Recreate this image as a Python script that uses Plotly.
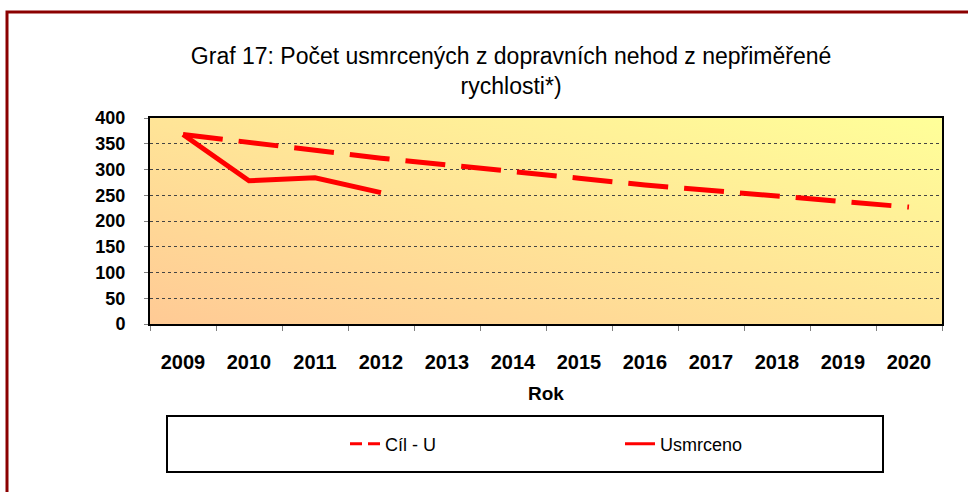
import base64
import plotly.graph_objects as go

years = ["2009", "2010", "2011", "2012", "2013", "2014", "2015", "2016", "2017", "2018", "2019", "2020"]
cil_u = [368, 352, 337, 322, 309, 295, 283, 270, 259, 248, 237, 227]
usmrceno_years = ["2009", "2010", "2011", "2012"]
usmrceno = [368, 278, 284, 255]
y_ticks = [0, 50, 100, 150, 200, 250, 300, 350, 400]

W, H = 968, 492
L, R, T, B = 150, 26, 118, 168
pw, ph = W - L - R, H - T - B


def px_x(x):
    return (x - L) / pw


def px_y(y):
    return (H - B - y) / ph


svg = (
    '<svg xmlns="http://www.w3.org/2000/svg" width="800" height="200" preserveAspectRatio="none">'
    '<defs><linearGradient id="g" x1="0" y1="1" x2="1" y2="0">'
    '<stop offset="0" stop-color="#FFCA95"/>'
    '<stop offset="1" stop-color="#FFFF99"/>'
    '</linearGradient></defs>'
    '<rect x="0" y="0" width="800" height="200" fill="url(#g)"/></svg>'
)
src = "data:image/svg+xml;base64," + base64.b64encode(svg.encode()).decode()

fig = go.Figure()
# data traces
fig.add_trace(go.Scatter(
    x=years, y=cil_u, name="Cíl - U", mode="lines", showlegend=False,
    line=dict(color="#FF0000", width=5, dash="40px,16px"),
))
fig.add_trace(go.Scatter(
    x=usmrceno_years, y=usmrceno, name="Usmrceno", mode="lines", showlegend=False,
    line=dict(color="#FF0000", width=5),
))
# legend entries (thinner samples as in the reference legend)
fig.add_trace(go.Scatter(
    x=[None], y=[None], name="Cíl - U", mode="lines",
    line=dict(color="#FF0000", width=3, dash="12px,6px"),
))
fig.add_trace(go.Scatter(
    x=[None], y=[None], name="Usmrceno", mode="lines",
    line=dict(color="#FF0000", width=3),
))

font_family = "Liberation Sans, Arial, sans-serif"

fig.update_layout(
    width=W, height=H,
    margin=dict(l=L, r=R, t=T, b=B, autoexpand=False),
    paper_bgcolor="white",
    plot_bgcolor="rgba(0,0,0,0)",
    font=dict(family=font_family, color="black"),
    title=dict(
        text="Graf 17: Počet usmrcených z dopravních nehod z nepřiměřené<br>rychlosti*)",
        x=0.528, xref="container", xanchor="center",
        y=1 - 64 / H, yanchor="middle",
        font=dict(size=23, family=font_family, color="black"),
    ),
    xaxis=dict(
        type="category",
        categoryorder="array", categoryarray=years,
        range=[-0.5, 11.5],
        tickson="boundaries", ticks="outside", ticklen=5, tickcolor="#808080",
        tickfont=dict(size=20, family=font_family, color="black", weight="bold"),
        ticklabelstandoff=19,
        showline=True, linecolor="black", linewidth=2, mirror=True,
        showgrid=False, zeroline=False,
        title=dict(text="<b>Rok</b>", font=dict(size=19, family=font_family), standoff=15),
    ),
    yaxis=dict(
        range=[0, 400], tickvals=y_ticks,
        ticks="outside", ticklen=4, tickcolor="#808080",
        tickfont=dict(size=18, family=font_family, color="black", weight="bold"),
        ticklabelstandoff=15,
        showline=True, linecolor="black", linewidth=2, mirror=True,
        showgrid=True, gridcolor="#444444", griddash="dot", gridwidth=1,
        zeroline=False,
    ),
    showlegend=True,
    legend=dict(
        orientation="h",
        x=px_x(345), xanchor="left",
        y=px_y(444), yanchor="middle",
        entrywidth=230, entrywidthmode="pixels",
        font=dict(size=18, family=font_family, color="black"),
        bgcolor="rgba(0,0,0,0)", borderwidth=0,
    ),
    images=[dict(
        source=src, xref="paper", yref="paper",
        x=0, y=1, sizex=1, sizey=1, sizing="stretch",
        xanchor="left", yanchor="top", layer="below",
    )],
    shapes=[
        dict(type="rect", xref="paper", yref="paper",
             x0=px_x(167), x1=px_x(883), y0=px_y(416), y1=px_y(472),
             line=dict(color="black", width=2), fillcolor="rgba(0,0,0,0)", layer="above"),
        dict(type="rect", xref="paper", yref="paper",
             x0=px_x(7), x1=px_x(990), y0=px_y(12), y1=px_y(520),
             line=dict(color="#8B0000", width=3), fillcolor="rgba(0,0,0,0)", layer="above"),
    ],
)

fig.write_html(
    "out.html",
    config={"displayModeBar": False},
    post_script="document.body.style.margin='0';document.body.style.overflow='hidden';",
)
